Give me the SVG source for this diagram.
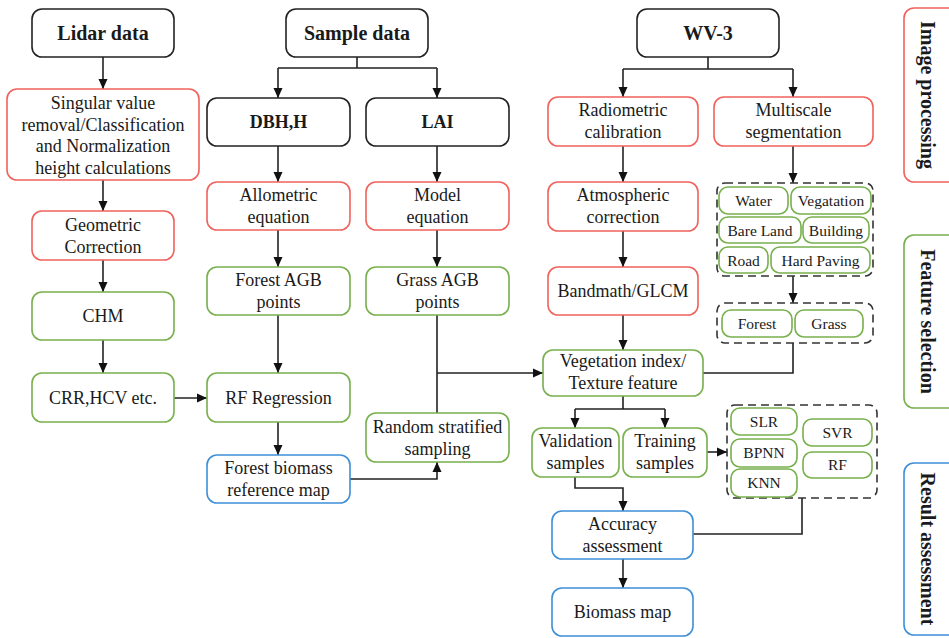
<svg xmlns="http://www.w3.org/2000/svg" width="949" height="638" viewBox="0 0 949 638">
<style>
rect{fill:#fff;stroke-width:1.6}
.k{stroke:#222}
.r{stroke:#f0625c}
.g{stroke:#77b04c}
.b{stroke:#3d8fd8}
.d{fill:none;stroke:#333;stroke-dasharray:8 5}
text{font-family:"Liberation Serif","Times New Roman",serif;font-size:18px;fill:#1a1a1a;text-anchor:middle}
.t{font-weight:bold;font-size:20px}
.tb{font-weight:bold}
.s{font-size:15.5px}
.c path{fill:none;stroke:#222;stroke-width:1.6}
</style>
<defs>
<marker id="a" markerUnits="userSpaceOnUse" markerWidth="10" markerHeight="10" refX="10" refY="5" orient="auto"><path d="M0,0.5L10,5L0,9.5z" fill="#111"/></marker>
</defs>
<g class="c" id="connectors">
<path d="M103,57V89" marker-end="url(#a)"/>
<path d="M103,180V211" marker-end="url(#a)"/>
<path d="M103,260V292" marker-end="url(#a)"/>
<path d="M103,340V373" marker-end="url(#a)"/>
<path d="M174,398H207" marker-end="url(#a)"/>
<path d="M357,57V68M278,68H437"/>
<path d="M278,68V98" marker-end="url(#a)"/>
<path d="M437,68V98" marker-end="url(#a)"/>
<path d="M278,146V182" marker-end="url(#a)"/>
<path d="M437,146V182" marker-end="url(#a)"/>
<path d="M278,230V267" marker-end="url(#a)"/>
<path d="M437,230V267" marker-end="url(#a)"/>
<path d="M278,315V373" marker-end="url(#a)"/>
<path d="M278,422V455" marker-end="url(#a)"/>
<path d="M437,315V413"/>
<path d="M437,373H543" marker-end="url(#a)"/>
<path d="M350,479H437V462" marker-end="url(#a)"/>
<path d="M708,57V69M623,69H793"/>
<path d="M623,69V97" marker-end="url(#a)"/>
<path d="M793,69V97" marker-end="url(#a)"/>
<path d="M623,146V182" marker-end="url(#a)"/>
<path d="M623,231V267" marker-end="url(#a)"/>
<path d="M623,315V350" marker-end="url(#a)"/>
<path d="M793,146V183" marker-end="url(#a)"/>
<path d="M793,276V303" marker-end="url(#a)"/>
<path d="M793,343V373H703"/>
<path d="M623,396V409M575,409H665"/>
<path d="M575,409V428" marker-end="url(#a)"/>
<path d="M665,409V428" marker-end="url(#a)"/>
<path d="M707,452H727" marker-end="url(#a)"/>
<path d="M575,477V488H623V511" marker-end="url(#a)"/>
<path d="M802,498V534H693"/>
<path d="M623,559V588" marker-end="url(#a)"/>
</g>
<g id="lidar"><rect class="k" x="32" y="9" width="142" height="48" rx="10"/><text class="t" x="103" y="40">Lidar data</text></g>
<g id="sample"><rect class="k" x="286" y="9" width="142" height="48" rx="10"/><text class="t" x="357" y="40">Sample data</text></g>
<g id="wv3"><rect class="k" x="637" y="9" width="142" height="48" rx="10"/><text class="t" x="708" y="40">WV-3</text></g>
<g id="singular"><rect class="r" x="7" y="89" width="192" height="91" rx="10"/><text x="103" y="109">Singular value<tspan x="103" dy="21.7">removal/Classification</tspan><tspan x="103" dy="21.7">and Normalization</tspan><tspan x="103" dy="21.7">height calculations</tspan></text></g>
<g id="geometric"><rect class="r" x="32" y="211" width="142" height="49" rx="10"/><text x="103" y="231">Geometric<tspan x="103" dy="22">Correction</tspan></text></g>
<g id="chm"><rect class="g" x="32" y="292" width="142" height="48" rx="10"/><text x="103" y="322">CHM</text></g>
<g id="crr"><rect class="g" x="32" y="373" width="142" height="49" rx="10"/><text x="103" y="404">CRR,HCV etc.</text></g>
<g id="dbh"><rect class="k" x="207" y="98" width="143" height="48" rx="10"/><text class="tb" x="278.5" y="128">DBH,H</text></g>
<g id="lai"><rect class="k" x="366" y="98" width="143" height="48" rx="10"/><text class="tb" x="437.5" y="128">LAI</text></g>
<g id="allometric"><rect class="r" x="207" y="182" width="143" height="48" rx="10"/><text x="278.5" y="201">Allometric<tspan x="278.5" dy="22">equation</tspan></text></g>
<g id="model"><rect class="r" x="366" y="182" width="143" height="48" rx="10"/><text x="437.5" y="201">Model<tspan x="437.5" dy="22">equation</tspan></text></g>
<g id="forestagb"><rect class="g" x="207" y="267" width="143" height="48" rx="10"/><text x="278.5" y="286">Forest AGB<tspan x="278.5" dy="22">points</tspan></text></g>
<g id="grassagb"><rect class="g" x="366" y="267" width="143" height="48" rx="10"/><text x="437.5" y="286">Grass AGB<tspan x="437.5" dy="22">points</tspan></text></g>
<g id="rfreg"><rect class="g" x="207" y="373" width="143" height="49" rx="10"/><text x="278.5" y="404">RF Regression</text></g>
<g id="fbrm"><rect class="b" x="207" y="455" width="143" height="48" rx="10"/><text x="278.5" y="474">Forest biomass<tspan x="278.5" dy="22">reference map</tspan></text></g>
<g id="rss"><rect class="g" x="366" y="413" width="143" height="49" rx="10"/><text x="437.5" y="433">Random stratified<tspan x="437.5" dy="22">sampling</tspan></text></g>
<g id="radiometric"><rect class="r" x="548" y="97" width="150" height="49" rx="10"/><text x="623" y="116">Radiometric<tspan x="623" dy="22">calibration</tspan></text></g>
<g id="multiscale"><rect class="r" x="714" y="97" width="159" height="49" rx="10"/><text x="793.5" y="116">Multiscale<tspan x="793.5" dy="22">segmentation</tspan></text></g>
<g id="atmos"><rect class="r" x="548" y="182" width="150" height="49" rx="10"/><text x="623" y="201">Atmospheric<tspan x="623" dy="22">correction</tspan></text></g>
<g id="bandmath"><rect class="r" x="548" y="267" width="150" height="48" rx="10"/><text x="623" y="297">Bandmath/GLCM</text></g>
<g id="vegidx"><rect class="g" x="543" y="350" width="160" height="46" rx="10"/><text x="623" y="367">Vegetation index/<tspan x="623" dy="22">Texture feature</tspan></text></g>
<g id="classes"><rect class="d" x="717" y="183" width="156" height="93" rx="8"/>
<rect class="g" x="719" y="187" width="69" height="27" rx="9"/><text class="s" x="753.5" y="206">Water</text>
<rect class="g" x="791" y="187" width="80" height="27" rx="9"/><text class="s" x="831" y="206">Vegatation</text>
<rect class="g" x="719" y="217" width="82" height="26" rx="9"/><text class="s" x="760" y="236">Bare Land</text>
<rect class="g" x="803" y="217" width="66" height="26" rx="9"/><text class="s" x="836" y="236">Building</text>
<rect class="g" x="719" y="247" width="49" height="26" rx="9"/><text class="s" x="743.5" y="266">Road</text>
<rect class="g" x="771" y="247" width="99" height="26" rx="9"/><text class="s" x="820.5" y="266">Hard Paving</text></g>
<g id="covers"><rect class="d" x="717" y="303" width="156" height="40" rx="8"/>
<rect class="g" x="722" y="310" width="70" height="27" rx="9"/><text class="s" x="757" y="329">Forest</text>
<rect class="g" x="795" y="310" width="68" height="27" rx="9"/><text class="s" x="829" y="329">Grass</text></g>
<g id="validation"><rect class="g" x="532" y="428" width="87" height="49" rx="10"/><text x="575.5" y="447">Validation<tspan x="575.5" dy="22">samples</tspan></text></g>
<g id="training"><rect class="g" x="623" y="428" width="84" height="49" rx="10"/><text x="665" y="447">Training<tspan x="665" dy="22">samples</tspan></text></g>
<g id="models"><rect class="d" x="727" y="405" width="150" height="93" rx="8"/>
<rect class="g" x="731" y="408" width="66" height="27" rx="9"/><text class="s" x="764" y="427">SLR</text>
<rect class="g" x="731" y="439" width="66" height="28" rx="9"/><text class="s" x="764" y="458">BPNN</text>
<rect class="g" x="731" y="469" width="66" height="28" rx="9"/><text class="s" x="764" y="488">KNN</text>
<rect class="g" x="803" y="419" width="69" height="27" rx="9"/><text class="s" x="837.5" y="438">SVR</text>
<rect class="g" x="803" y="452" width="69" height="26" rx="9"/><text class="s" x="837.5" y="470">RF</text></g>
<g id="accuracy"><rect class="b" x="552" y="511" width="141" height="48" rx="10"/><text x="622.5" y="530">Accuracy<tspan x="622.5" dy="22">assessment</tspan></text></g>
<g id="biomass"><rect class="b" x="552" y="588" width="141" height="48" rx="10"/><text x="622.5" y="618">Biomass map</text></g>
<g id="imgproc"><rect class="r" x="904" y="8" width="60" height="174" rx="10"/><text class="t" transform="translate(928,95) rotate(90)" y="7">Image processing</text></g>
<g id="featsel"><rect class="g" x="904" y="235" width="60" height="173" rx="10"/><text class="t" transform="translate(928,321.5) rotate(90)" y="7">Feature selection</text></g>
<g id="resass"><rect class="b" x="904" y="463" width="60" height="172" rx="10"/><text class="t" transform="translate(928,549) rotate(90)" y="7">Result assessment</text></g>
</svg>
